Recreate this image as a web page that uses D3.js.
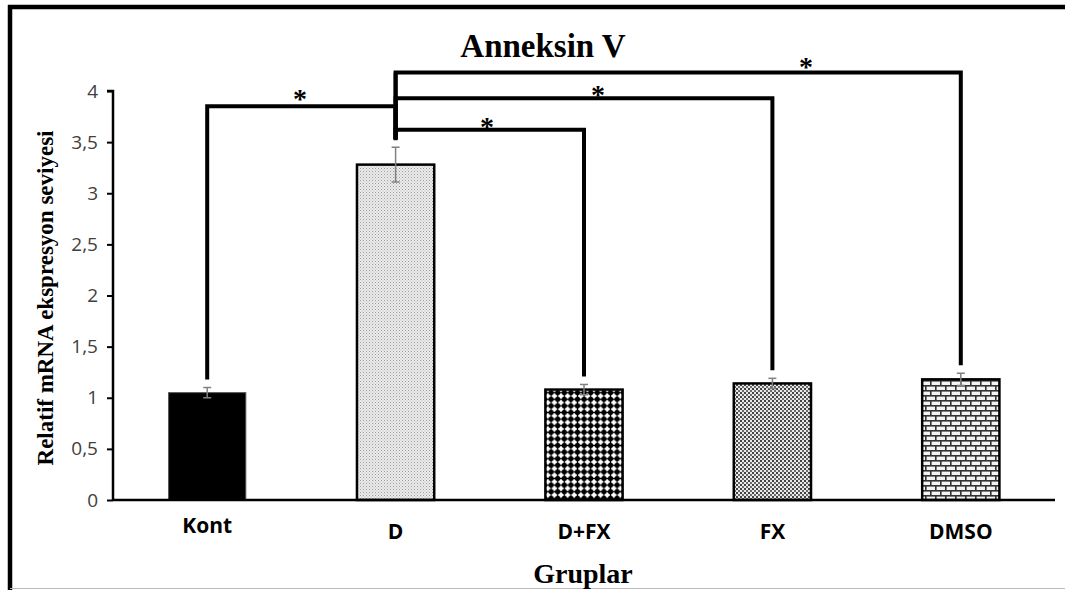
<!DOCTYPE html>
<html>
<head>
<meta charset="utf-8">
<script src="https://cdn.jsdelivr.net/npm/d3@7/dist/d3.min.js"></script>
<style>
  html, body { margin: 0; padding: 0; background: #fff; }
  svg { display: block; }
</style>
</head>
<body>
<svg id="chart" width="1065" height="590"></svg>
<script>
// Anneksin V relative mRNA expression per group
const groups = ["Kont", "D", "D+FX", "FX", "DMSO"];
const means = [1.05, 3.28, 1.08, 1.14, 1.18];
const errors = [0.05, 0.17, 0.05, 0.05, 0.06];
const yTicks = [0, 0.5, 1, 1.5, 2, 2.5, 3, 3.5, 4];
const fills = ["#000", "url(#pDots)", "url(#pDiamond)", "url(#pFine)", "url(#pBrick)"];
// significance brackets: from group, to group, bracket level (value units)
const brackets = [
  { from: "Kont", to: "D", level: 3.85 },
  { from: "D", to: "D+FX", level: 3.62 },
  { from: "D", to: "FX", level: 3.93 },
  { from: "D", to: "DMSO", level: 4.18 }
];
const starPos = [[300, 94], [487, 122], [598, 90], [806, 62]];

const svg = d3.select("#chart");

const x = d3.scaleBand().domain(groups).range([113, 1055]).paddingInner(0.59).paddingOuter(0.295);
const y = d3.scaleLinear().domain([0, 4]).range([500, 91]);

const serif = "Liberation Serif, 'Times New Roman', serif";
const sans = "'Open Sans', 'Liberation Sans', sans-serif";

// fill patterns
const defs = svg.append("defs");
const p1 = defs.append("pattern").attr("id", "pDots").attr("patternUnits", "userSpaceOnUse").attr("width", 3).attr("height", 3);
p1.append("rect").attr("width", 3).attr("height", 3).attr("fill", "#ececec");
p1.append("rect").attr("x", 0).attr("y", 0).attr("width", 1).attr("height", 1).attr("fill", "#9a9a9a");
p1.append("rect").attr("x", 1.5).attr("y", 1.5).attr("width", 1).attr("height", 1).attr("fill", "#b5b5b5");

const p2 = defs.append("pattern").attr("id", "pDiamond").attr("patternUnits", "userSpaceOnUse").attr("width", 6.6).attr("height", 6.6);
p2.append("rect").attr("width", 6.6).attr("height", 6.6).attr("fill", "#fff");
p2.append("circle").attr("cx", 3.3).attr("cy", 3.3).attr("r", 2.6).attr("fill", "#000");
p2.append("rect").attr("x", 2.6).attr("y", 0).attr("width", 1.4).attr("height", 6.6).attr("fill", "#000");
p2.append("rect").attr("x", 0).attr("y", 2.6).attr("width", 6.6).attr("height", 1.4).attr("fill", "#000");

const p3 = defs.append("pattern").attr("id", "pFine").attr("patternUnits", "userSpaceOnUse").attr("width", 4).attr("height", 4);
p3.append("rect").attr("width", 4).attr("height", 4).attr("fill", "#e8e8e8");
p3.append("rect").attr("x", 0).attr("y", 0).attr("width", 2).attr("height", 2).attr("fill", "#444");
p3.append("rect").attr("x", 2).attr("y", 2).attr("width", 2).attr("height", 2).attr("fill", "#6a6a6a");

const p4 = defs.append("pattern").attr("id", "pBrick").attr("patternUnits", "userSpaceOnUse").attr("width", 10).attr("height", 10);
p4.append("rect").attr("width", 10).attr("height", 10).attr("fill", "#f4f4f4");
p4.append("rect").attr("x", 0).attr("y", 0).attr("width", 10).attr("height", 1.6).attr("fill", "#333");
p4.append("rect").attr("x", 0).attr("y", 5).attr("width", 10).attr("height", 1.6).attr("fill", "#333");
p4.append("rect").attr("x", 0).attr("y", 0).attr("width", 1.6).attr("height", 5).attr("fill", "#333");
p4.append("rect").attr("x", 5).attr("y", 5).attr("width", 1.6).attr("height", 5).attr("fill", "#333");

// frame
svg.append("line").attr("x1", 8).attr("x2", 1065).attr("y1", 7).attr("y2", 7).attr("stroke", "#000").attr("stroke-width", 4.5);
svg.append("line").attr("x1", 10).attr("x2", 10).attr("y1", 5).attr("y2", 590).attr("stroke", "#000").attr("stroke-width", 4.5);
svg.append("line").attr("x1", 10).attr("x2", 1065).attr("y1", 588.5).attr("y2", 588.5).attr("stroke", "#bbb").attr("stroke-width", 1);

// title
svg.append("text").attr("x", 543).attr("y", 57).attr("text-anchor", "middle")
  .attr("font-family", serif).attr("font-weight", "bold")
  .attr("font-size", 33).attr("fill", "#000").text("Anneksin V");

// bars
svg.append("g").selectAll("rect").data(groups).join("rect")
  .attr("x", d => x(d)).attr("width", x.bandwidth())
  .attr("y", (d, i) => y(means[i])).attr("height", (d, i) => y(0) - y(means[i]))
  .attr("fill", (d, i) => fills[i])
  .attr("stroke", (d, i) => i === 0 ? "#555" : "#000")
  .attr("stroke-width", (d, i) => i === 0 ? 1 : 2.5);

// error bars
const eg = svg.append("g").attr("stroke", "#808080").attr("stroke-width", 1.5);
groups.forEach((g, i) => {
  const cx = x(g) + x.bandwidth() / 2;
  const top = y(means[i] + errors[i]), bot = y(means[i] - errors[i]);
  eg.append("line").attr("x1", cx).attr("x2", cx).attr("y1", top).attr("y2", bot);
  eg.append("line").attr("x1", cx - 4).attr("x2", cx + 4).attr("y1", top).attr("y2", top);
  eg.append("line").attr("x1", cx - 4).attr("x2", cx + 4).attr("y1", bot).attr("y2", bot);
});

// y axis
const yAxis = d3.axisLeft(y).tickValues(yTicks).tickSize(6).tickPadding(9)
  .tickFormat(d => String(d).replace(".", ","));
const ya = svg.append("g").attr("transform", "translate(113,0)").call(yAxis);
ya.select(".domain").attr("stroke", "#000").attr("stroke-width", 2.5).attr("d", "M-6,91H0V500");
ya.selectAll(".tick line").attr("stroke", "#000").attr("stroke-width", 2);
ya.selectAll(".tick text").attr("font-family", sans)
  .attr("font-size", 19).attr("fill", "#404040");

// x axis
const xAxis = d3.axisBottom(x).tickSize(0).tickPadding(24);
const xa = svg.append("g").attr("transform", "translate(0,500)").call(xAxis);
xa.select(".domain").attr("stroke", "#000").attr("stroke-width", 2.5).attr("d", "M113,0H1055");
xa.selectAll(".tick text").attr("font-family", sans)
  .attr("font-weight", "bold").attr("font-size", 21).attr("fill", "#000")
  .attr("dy", (d, i) => i === 0 ? "0.45em" : "0.71em");

// axis titles
svg.append("text").attr("transform", "translate(53,298) rotate(-90)").attr("text-anchor", "middle")
  .attr("font-family", serif).attr("font-weight", "bold")
  .attr("font-size", 23).attr("fill", "#000").text("Relatif mRNA ekspresyon seviyesi");
svg.append("text").attr("x", 583).attr("y", 583).attr("text-anchor", "middle")
  .attr("font-family", serif).attr("font-weight", "bold")
  .attr("font-size", 28).attr("fill", "#000").text("Gruplar");

// significance brackets
const bg = svg.append("g").attr("fill", "none").attr("stroke", "#000").attr("stroke-width", 4)
  .attr("stroke-linejoin", "miter");
const cxOf = g => x(g) + x.bandwidth() / 2;
const idx = g => groups.indexOf(g);
brackets.forEach(b => {
  const x1 = cxOf(b.from), x2 = cxOf(b.to);
  const yl = y(b.level);
  const y1 = y(means[idx(b.from)] + errors[idx(b.from)]) - 8;
  const y2 = y(means[idx(b.to)] + errors[idx(b.to)]) - 8;
  bg.append("path").attr("d", `M${x1},${y1}V${yl}H${x2}V${y2}`);
});
// D vertical stem shared by the D brackets
bg.append("path").attr("d", `M${cxOf("D")},${y(means[1] + errors[1]) - 7}V${y(4.18)}`);

svg.append("g").selectAll("text").data(starPos).join("text")
  .attr("x", d => d[0]).attr("y", d => d[1] + 14).attr("text-anchor", "middle")
  .attr("font-family", serif).attr("font-weight", "bold")
  .attr("font-size", 28).attr("fill", "#000").text("*");
</script>
</body>
</html>
